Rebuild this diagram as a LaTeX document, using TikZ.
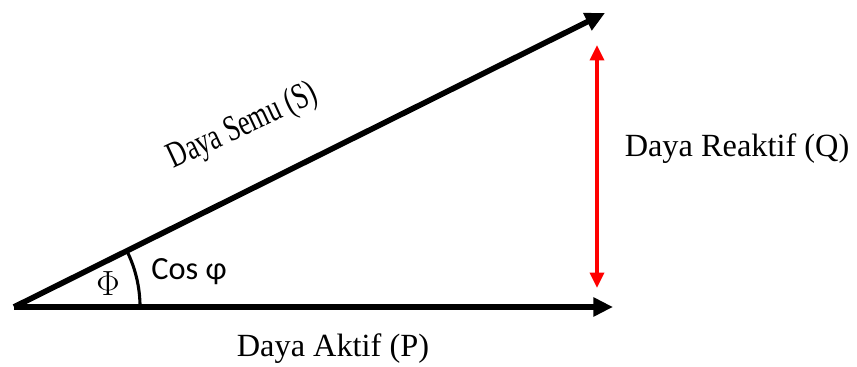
\documentclass[tikz,border=0pt]{standalone}
\usepackage{fontspec}
\setmainfont{Liberation Serif}
\newfontfamily\calfont{Carlito}
\usepackage{tikz}
\usetikzlibrary{arrows.meta, positioning}
\usepackage{xcolor}

\begin{document}
\begin{tikzpicture}[
    x=0.025cm, y=0.025cm,
    every node/.style = {align=center, inner sep=0pt, font=\fontsize{23}{26}\selectfont},
    vecline/.style  = {-{Triangle[length=14pt,width=13pt]}, line width=4pt, black},
    reakline/.style = {{Triangle[length=11pt,width=10pt]}-{Triangle[length=11pt,width=10pt]},
                       line width=2.4pt, red},
    arcline/.style  = {line width=2.2pt, black},
    semulabel/.style = {rotate=25, xscale=0.72, font=\fontsize{26}{29}\selectfont},
]

%% bounding box
\useasboundingbox (0,0) rectangle (857,367);

%% corners
\coordinate (O)    at (14, 60);
\coordinate (P)    at (613, 60);
\coordinate (S)    at (605, 354);
\coordinate (Qbot) at (597, 79);
\coordinate (Qtop) at (597, 322);

%% vectors
\draw[vecline] (O) -- (P);
\draw[vecline] (O) -- (S);
\draw[reakline] (Qbot) -- (Qtop);

%% angle
\draw[arcline] (O) ++(0:3.15cm) arc[start angle=0, end angle=26.45, radius=3.15cm];

%% labels
\node[font=\fontsize{26}{29}\selectfont] (phi) at (108, 83) {$\Phi$};
\node (cos)   at (189, 95)  {\calfont Cos φ};
\node[semulabel] (semu) at (243, 240) {Daya Semu (S)};
\node (reak)  at (737, 218) {Daya Reaktif (Q)};
\node (aktif) at (333, 18)  {Daya Aktif (P)};

\end{tikzpicture}
\end{document}
